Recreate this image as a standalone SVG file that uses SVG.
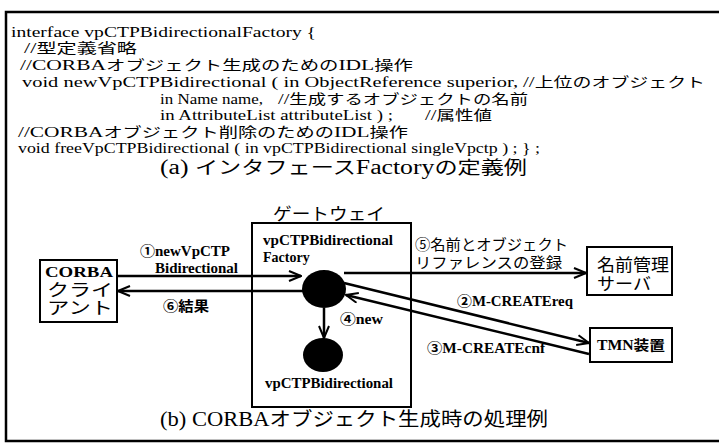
<svg xmlns="http://www.w3.org/2000/svg" width="719" height="446" viewBox="0 0 719 446">
<style>
.code{font-family:"Liberation Serif","Noto Sans CJK JP",serif;font-size:15px;fill:#000}
.j{font-size:13.5px}
.cap{font-family:"Liberation Serif","Noto Sans CJK JP",serif;font-size:20px;fill:#000}
.lbl{font-family:"Liberation Serif","Noto Sans CJK JP",serif;font-size:14px;font-weight:bold;fill:#000}
.lbn{font-family:"Liberation Serif","Noto Sans CJK JP",serif;font-size:15px;font-weight:normal;fill:#000}
.jp{font-family:"Liberation Serif","Noto Sans CJK JP",serif;font-size:17px;fill:#000}
.box{fill:#fff;stroke:#000;stroke-width:2}
.con{stroke:#000;stroke-width:2.5;fill:none;marker-end:url(#ah)}
</style>
<defs>
<marker id="ah" viewBox="0 0 14 12" refX="13" refY="6" markerWidth="14" markerHeight="12" orient="auto" markerUnits="userSpaceOnUse">
<path d="M1,1 L13,6 L1,11" fill="none" stroke="#000" stroke-width="2"/>
</marker>
</defs>
<rect width="719" height="446" fill="#fff"/>
<path d="M720,12 H6 V441 H720" fill="none" stroke="#000" stroke-width="2.5"/>

<g id="code">
<text class="code" x="11" y="37" textLength="305" lengthAdjust="spacingAndGlyphs">interface vpCTPBidirectionalFactory {</text>
<text class="code" x="24" y="53" textLength="113" lengthAdjust="spacingAndGlyphs">//<tspan class="j">型定義省略</tspan></text>
<text class="code" x="20" y="70" textLength="393" lengthAdjust="spacingAndGlyphs">//CORBA<tspan class="j">オブジェクト生成のための</tspan>IDL<tspan class="j">操作</tspan></text>
<text class="code" x="22" y="87" textLength="496" lengthAdjust="spacingAndGlyphs">void newVpCTPBidirectional ( in ObjectReference superior,</text>
<text class="code" x="523" y="87" textLength="182" lengthAdjust="spacingAndGlyphs">//<tspan class="j">上位のオブジェクト</tspan></text>
<text class="code" x="160" y="104" textLength="103" lengthAdjust="spacingAndGlyphs">in Name name,</text>
<text class="code" x="278" y="104" textLength="250" lengthAdjust="spacingAndGlyphs">//<tspan class="j">生成するオブジェクトの名前</tspan></text>
<text class="code" x="160" y="120" textLength="233" lengthAdjust="spacingAndGlyphs">in AttributeList attributeList ) ;</text>
<text class="code" x="425" y="120" textLength="67" lengthAdjust="spacingAndGlyphs">//<tspan class="j">属性値</tspan></text>
<text class="code" x="18" y="137" textLength="390" lengthAdjust="spacingAndGlyphs">//CORBA<tspan class="j">オブジェクト削除のための</tspan>IDL<tspan class="j">操作</tspan></text>
<text class="code" x="18" y="153" textLength="522" lengthAdjust="spacingAndGlyphs">void freeVpCTPBidirectional ( in vpCTPBidirectional  singleVpctp ) ; } ;</text>
<text class="cap" x="160" y="174" textLength="367" lengthAdjust="spacingAndGlyphs">(a) <tspan font-size="18">インタフェース</tspan>Factory<tspan font-size="18">の定義例</tspan></text>
</g>

<g id="gateway">
<text class="jp" x="273" y="220" font-size="18" textLength="112" lengthAdjust="spacingAndGlyphs">ゲートウェイ</text>
<rect class="box" x="252" y="223" width="159" height="184"/>
</g>

<g id="factory">
<text class="lbl" x="263" y="245" textLength="130" lengthAdjust="spacingAndGlyphs">vpCTPBidirectional</text>
<text class="lbl" x="263" y="262">Factory</text>
<ellipse cx="324" cy="289" rx="22" ry="19" fill="#000"/>
</g>

<g id="vpctp">
<ellipse cx="323" cy="355" rx="20" ry="17" fill="#000"/>
<text class="lbl" x="265" y="388" textLength="128" lengthAdjust="spacingAndGlyphs">vpCTPBidirectional</text>
</g>

<g id="client">
<rect class="box" x="40" y="260" width="77" height="62"/>
<text class="lbl" x="45" y="277" font-size="16" textLength="68" lengthAdjust="spacingAndGlyphs">CORBA</text>
<text class="jp" x="47" y="296" textLength="66" lengthAdjust="spacingAndGlyphs">クライ</text>
<text class="jp" x="47" y="314" textLength="66" lengthAdjust="spacingAndGlyphs">アント</text>
</g>

<g id="nameserver">
<rect class="box" x="587" y="247" width="85" height="48"/>
<text class="jp" x="597" y="271" font-size="18" textLength="72" lengthAdjust="spacingAndGlyphs">名前管理</text>
<text class="jp" x="597" y="290" font-size="18" textLength="54" lengthAdjust="spacingAndGlyphs">サーバ</text>
</g>

<g id="tmn">
<rect class="box" x="590" y="328" width="82" height="34"/>
<text class="lbl" x="597" y="350" font-size="15" textLength="68" lengthAdjust="spacingAndGlyphs">TMN装置</text>
</g>

<g id="connectors">
<path class="con" d="M117,276 L301,276"/>
<path class="con" d="M304,291 L118,291"/>
<path class="con" d="M344,273 L586,273"/>
<path class="con" d="M344,283 L589,343"/>
<path class="con" d="M589,354 L346,295"/>
<path class="con" d="M324,308 L324,338"/>
</g>

<g id="labels">
<text class="lbl" x="140" y="256" textLength="90" lengthAdjust="spacingAndGlyphs">①newVpCTP</text>
<text class="lbl" x="155" y="273" textLength="83" lengthAdjust="spacingAndGlyphs">Bidirectional</text>
<text class="lbl" x="163" y="311" textLength="46" lengthAdjust="spacingAndGlyphs">⑥結果</text>
<text class="lbn" x="415" y="250" textLength="153" lengthAdjust="spacingAndGlyphs">⑤名前とオブジェクト</text>
<text class="lbn" x="415" y="268" textLength="147" lengthAdjust="spacingAndGlyphs">リファレンスの登録</text>
<text class="lbl" x="457" y="306" textLength="116" lengthAdjust="spacingAndGlyphs">②M-CREATEreq</text>
<text class="lbl" x="427" y="353" textLength="118" lengthAdjust="spacingAndGlyphs">③M-CREATEcnf</text>
<text class="lbl" x="340" y="324" textLength="43" lengthAdjust="spacingAndGlyphs">④new</text>
</g>

<g id="caption-b">
<text class="cap" x="160" y="426" font-size="21" textLength="388" lengthAdjust="spacingAndGlyphs">(b) CORBA<tspan font-size="19">オブジェクト生成時の処理例</tspan></text>
</g>
</svg>
